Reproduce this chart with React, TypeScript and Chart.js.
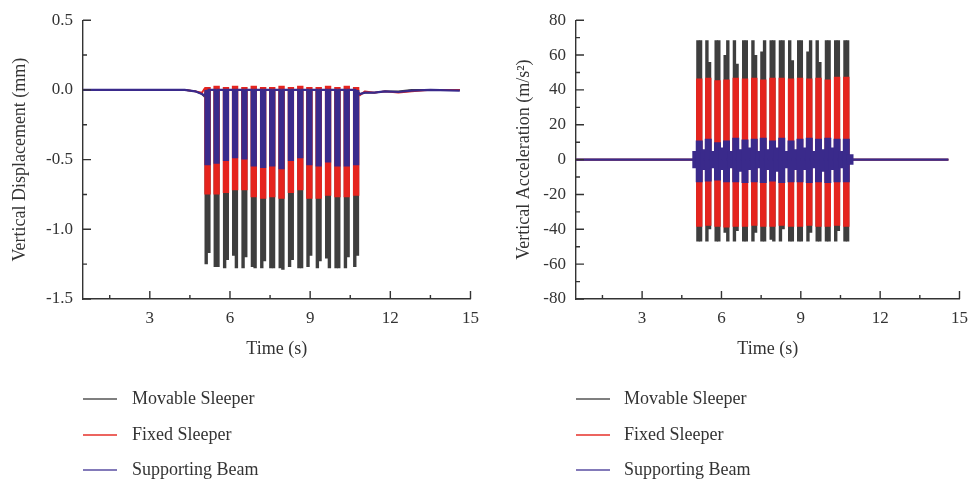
import React, { useEffect, useRef } from "react";
import { Chart, registerables } from "chart.js";

Chart.register(...registerables);

// ---------- labels & styling constants ----------
const SERIES_NAMES = ["Movable Sleeper", "Fixed Sleeper", "Supporting Beam"];
const SERIES_COLORS = ["#3e3e3e", "#e5241e", "#3a2a8b"];
const LEGEND_COLORS = ["#555555", "#e6302a", "#5a4ea2"];
const FONT = "'Liberation Serif', 'Times New Roman', Times, serif";
const AXIS = "#333333";

// ---------- ticks ----------
const xMajorTicks = [3, 6, 9, 12, 15];
const xMinorTicks = [1.5, 4.5, 7.5, 10.5, 13.5];
const dispMajorTicks = [0.5, 0, -0.5, -1, -1.5];
const dispMinorTicks = [0.25, -0.25, -0.75, -1.25];
const accMajorTicks = [80, 60, 40, 20, 0, -20, -40, -60, -80];
const accMinorTicks = [70, 50, 30, 10, -10, -30, -50, -70];

// ---------- time stamps of the wheel-passage bursts (s) ----------
const barTimes = [5.16, 5.5, 5.85, 6.19, 6.54, 6.89, 7.24, 7.58, 7.93, 8.28, 8.63, 8.97, 9.32, 9.67, 10.02, 10.37, 10.72];
const prongTimesA = [5.11, 5.45, 5.8, 6.14, 6.49, 6.84, 7.19, 7.53, 7.88, 8.23, 8.58, 8.92, 9.27, 9.62, 9.97, 10.32, 10.67];
const prongTimesB = [5.21, 5.55, 5.9, 6.24, 6.59, 6.94, 7.29, 7.63, 7.98, 8.33, 8.68, 9.02, 9.37, 9.72, 10.07, 10.42, 10.77];
const midTimes = [5.33, 5.67, 6.02, 6.36, 6.71, 7.06, 7.41, 7.75, 8.1, 8.45, 8.8, 9.14, 9.49, 9.84, 10.19, 10.54];

// ---------- vertical displacement (mm) ----------
const dispLeadT = [0.5, 4.3, 4.7, 4.95, 5.05];
const dispMovableLead = [0, 0, -0.01, -0.03, -0.05];
const dispFixedLead = [0, 0, -0.01, -0.02, 0.01];
const dispBeamLead = [0, 0, -0.01, -0.03, -0.04];

const dispMovableLoA = [-1.25, -1.27, -1.28, -1.19, -1.28, -1.27, -1.28, -1.28, -1.28, -1.27, -1.28, -1.27, -1.28, -1.21, -1.28, -1.28, -1.27];
const dispMovableLoB = [-1.17, -1.27, -1.22, -1.28, -1.2, -1.28, -1.23, -1.28, -1.29, -1.22, -1.28, -1.19, -1.23, -1.28, -1.28, -1.2, -1.19];
const dispFixedHi = [0.02, 0.03, 0.02, 0.03, 0.02, 0.03, 0.02, 0.02, 0.03, 0.02, 0.03, 0.02, 0.02, 0.03, 0.02, 0.03, 0.02];
const dispFixedLo = [-0.75, -0.75, -0.74, -0.72, -0.72, -0.77, -0.78, -0.77, -0.78, -0.74, -0.72, -0.78, -0.78, -0.76, -0.77, -0.77, -0.76];
const dispBeamHi = [0, -0.01, 0, -0.01, 0, -0.01, 0, -0.01, 0, -0.01, 0, -0.01, 0, -0.01, 0, -0.01, 0];
const dispBeamLo = [-0.54, -0.53, -0.51, -0.49, -0.5, -0.55, -0.56, -0.55, -0.57, -0.51, -0.49, -0.54, -0.55, -0.52, -0.55, -0.55, -0.54];

const dispTailT = [10.85, 11.05, 11.4, 11.8, 12.3, 12.8, 13.5, 14.6];
const dispMovableTail = [-0.03, -0.02, -0.02, -0.01, -0.01, 0, 0, 0];
const dispFixedTail = [-0.04, -0.01, -0.02, -0.01, -0.02, -0.01, 0, 0];
const dispBeamTail = [-0.03, -0.02, -0.02, -0.01, -0.015, -0.005, 0, -0.005];

// ---------- vertical acceleration (m/s^2) ----------
const accLeadT = [0.5, 4.95];
const accLeadV = [0, 0];
const accTailT = [10.9, 14.58];
const accTailV = [0, 0];

const accMovableHiA = [68.5, 68.5, 68.5, 60, 68.5, 68.5, 68.5, 62, 68.5, 68.5, 68.5, 68.5, 62, 68.5, 68.5, 68.5, 68.5];
const accMovableHiB = [68.5, 56, 68.5, 68.5, 55, 68.5, 60, 68.5, 68.5, 68.5, 57, 68.5, 68.5, 56, 68.5, 68.5, 68.5];
const accMovableLoA = [-47, -47, -47, -42, -47, -47, -47, -47, -46, -47, -47, -47, -47, -47, -47, -47, -47];
const accMovableLoB = [-47, -40, -47, -47, -41, -47, -42, -47, -47, -40, -47, -47, -42, -47, -47, -41, -47];
const accFixedHi = [46.5, 47, 45.5, 46, 47, 46.5, 47, 46, 47, 47, 46.5, 47, 46.5, 47, 46, 47.5, 47.5];
const accFixedLo = [-38.5, -38, -38.5, -39, -38.5, -38.5, -38, -38.5, -38.5, -38, -38.5, -38.5, -38, -38.5, -38.5, -38, -38.5];
const accBeamHi = [11, 12, 10, 11, 12.5, 11.5, 12, 12.5, 11, 12.5, 11, 12, 12.5, 12, 12.5, 12, 12];
const accBeamLo = [-13, -12.5, -12, -13, -13, -13.5, -13, -13.5, -12.5, -13.5, -13, -13, -13.5, -13, -13.5, -13, -13];
const accBeamMidHi = [6, 5, 7, 5, 6, 7, 5, 6, 7, 5, 6, 7, 5, 6, 7, 5];
const accBeamMidLo = [-6, -5, -6, -5, -7, -6, -5, -6, -7, -5, -6, -6, -5, -7, -6, -5];
const accBeamEdgeT = [5.03, 10.86];
const accBeamEdgeHi = [5, 3];
const accBeamEdgeLo = [-5, -3];

// ---------- helpers ----------
type Ev = [number, number, number];
const zipEv = (t: number[], hi: number[] | number, lo: number[]): Ev[] =>
  t.map((v, i) => [v, Array.isArray(hi) ? hi[i] : hi, lo[i]] as Ev);

function buildPoints(leadT: number[], leadV: number[], events: Ev[], tailT: number[], tailV: number[]) {
  const pts: { x: number; y: number }[] = [];
  leadT.forEach((t, i) => pts.push({ x: t, y: leadV[i] }));
  events
    .slice()
    .sort((a, b) => a[0] - b[0])
    .forEach(([t, hi, lo]) => {
      pts.push({ x: t, y: 0 }, { x: t, y: hi }, { x: t, y: lo }, { x: t, y: 0 });
    });
  tailT.forEach((t, i) => pts.push({ x: t, y: tailV[i] }));
  return pts;
}

function makeDataset(idx: number, data: any[], barW: number, baseW: number, order: number) {
  return {
    label: SERIES_NAMES[idx],
    data,
    borderColor: SERIES_COLORS[idx],
    backgroundColor: SERIES_COLORS[idx],
    borderWidth: baseW,
    borderCapStyle: "butt",
    borderJoinStyle: "bevel",
    pointRadius: 0,
    tension: 0,
    fill: false,
    order,
    segment: {
      borderWidth: (ctx: any) => (ctx.p0.parsed.x === ctx.p1.parsed.x ? barW : baseW),
    },
  };
}

function dispDatasets() {
  return [
    makeDataset(
      0,
      buildPoints(
        dispLeadT,
        dispMovableLead,
        [...zipEv(prongTimesA, 0, dispMovableLoA), ...zipEv(prongTimesB, 0, dispMovableLoB)],
        dispTailT,
        dispMovableTail
      ),
      3.4,
      1.6,
      3
    ),
    makeDataset(1, buildPoints(dispLeadT, dispFixedLead, zipEv(barTimes, dispFixedHi, dispFixedLo), dispTailT, dispFixedTail), 6.4, 1.8, 2),
    makeDataset(2, buildPoints(dispLeadT, dispBeamLead, zipEv(barTimes, dispBeamHi, dispBeamLo), dispTailT, dispBeamTail), 6.2, 2.2, 1),
  ];
}

function accDatasets() {
  return [
    makeDataset(
      0,
      buildPoints(
        accLeadT,
        accLeadV,
        [...zipEv(prongTimesA, accMovableHiA, accMovableLoA), ...zipEv(prongTimesB, accMovableHiB, accMovableLoB)],
        accTailT,
        accTailV
      ),
      3.4,
      1.6,
      3
    ),
    makeDataset(1, buildPoints(accLeadT, accLeadV, zipEv(barTimes, accFixedHi, accFixedLo), accTailT, accTailV), 6.4, 1.8, 2),
    makeDataset(
      2,
      buildPoints(
        accLeadT,
        accLeadV,
        [
          ...zipEv(barTimes, accBeamHi, accBeamLo),
          ...zipEv(midTimes, accBeamMidHi, accBeamMidLo),
          ...zipEv(accBeamEdgeT, accBeamEdgeHi, accBeamEdgeLo),
        ],
        accTailT,
        accTailV
      ),
      7,
      2.4,
      1
    ),
  ];
}

// ---------- plugins ----------
function axisTicksPlugin(yMinor: number[]) {
  return {
    id: "inwardTicks",
    afterDraw(chart: any) {
      const { ctx, chartArea, scales } = chart;
      const x = scales.x;
      const y = scales.y;
      ctx.save();
      ctx.strokeStyle = AXIS;
      ctx.lineWidth = 1.4;
      ctx.beginPath();
      const xt = (v: number, len: number) => {
        const p = x.getPixelForValue(v);
        ctx.moveTo(p, chartArea.bottom);
        ctx.lineTo(p, chartArea.bottom - len);
      };
      const yt = (v: number, len: number) => {
        const p = y.getPixelForValue(v);
        ctx.moveTo(chartArea.left, p);
        ctx.lineTo(chartArea.left + len, p);
      };
      x.ticks.forEach((t: any) => xt(t.value, 8));
      xMinorTicks.forEach((v) => xt(v, 4));
      y.ticks.forEach((t: any) => yt(t.value, 8));
      yMinor.forEach((v) => yt(v, 4));
      ctx.stroke();
      ctx.restore();
    },
  };
}

function legendPlugin(lineX1: number, lineX2: number, textX: number, rows: number[]) {
  return {
    id: "stackedLegend",
    afterDraw(chart: any) {
      const { ctx } = chart;
      ctx.save();
      ctx.font = `18px ${FONT}`;
      ctx.textBaseline = "middle";
      ctx.textAlign = "left";
      chart.data.datasets.forEach((ds: any, i: number) => {
        const y = rows[i];
        ctx.strokeStyle = LEGEND_COLORS[i];
        ctx.lineWidth = 1.6;
        ctx.beginPath();
        ctx.moveTo(lineX1, y);
        ctx.lineTo(lineX2, y);
        ctx.stroke();
        ctx.fillStyle = AXIS;
        ctx.fillText(ds.label, textX, y);
      });
      ctx.restore();
    },
  };
}

function makeConfig(p: any): any {
  return {
    type: "line",
    data: { datasets: p.datasets },
    options: {
      animation: false,
      responsive: false,
      devicePixelRatio: 1,
      events: [],
      layout: { padding: p.padding },
      plugins: { legend: { display: false }, tooltip: { enabled: false }, title: { display: false } },
      scales: {
        x: {
          type: "linear",
          min: 0.5,
          max: 15,
          afterBuildTicks: (s: any) => {
            s.ticks = xMajorTicks.map((v) => ({ value: v }));
          },
          afterFit: (s: any) => {
            s.height = 61;
          },
          grid: { display: false, drawTicks: false },
          border: { display: true, color: AXIS, width: 1.4 },
          ticks: { padding: 9, color: AXIS, font: { family: FONT, size: 17 }, maxRotation: 0, autoSkip: false },
          title: {
            display: true,
            text: "Time (s)",
            color: AXIS,
            font: { family: FONT, size: 18 },
            padding: { top: 0, bottom: 0 },
          },
        },
        y: {
          type: "linear",
          min: p.yMin,
          max: p.yMax,
          afterBuildTicks: (s: any) => {
            s.ticks = p.yTicks.map((v: number) => ({ value: v }));
          },
          afterFit: (s: any) => {
            s.width = p.yWidth;
          },
          grid: { display: false, drawTicks: false },
          border: { display: true, color: AXIS, width: 1.4 },
          ticks: {
            padding: 10,
            color: AXIS,
            font: { family: FONT, size: 17 },
            autoSkip: false,
            callback: p.fmt,
          },
          title: {
            display: true,
            text: p.yTitle,
            color: AXIS,
            font: { family: FONT, size: 18 },
            padding: { top: p.titlePad, bottom: 0 },
          },
        },
      },
    },
    plugins: [axisTicksPlugin(p.yMinor), legendPlugin(p.legend[0], p.legend[1], p.legend[2], [399, 435, 470])],
  };
}

function ChartCanvas({ left, width, build }: { left: number; width: number; build: () => any }) {
  const ref = useRef<HTMLCanvasElement | null>(null);
  useEffect(() => {
    if (!ref.current) return;
    const chart = new Chart(ref.current, build());
    return () => chart.destroy();
  }, []);
  return (
    <canvas
      ref={ref}
      width={width}
      height={485}
      style={{ position: "absolute", left, top: 0, width, height: 485, display: "block" }}
    />
  );
}

export default function App() {
  return (
    <div style={{ position: "absolute", left: 0, top: 0, width: 977, height: 485, background: "#ffffff" }}>
      <ChartCanvas
        left={0}
        width={488}
        build={() =>
          makeConfig({
            datasets: dispDatasets(),
            padding: { left: 0, right: 16, top: 14, bottom: 125 },
            yMin: -1.5,
            yMax: 0.5,
            yTicks: dispMajorTicks,
            yMinor: dispMinorTicks,
            yWidth: 83,
            yTitle: "Vertical Displacement (mm)",
            titlePad: 9,
            fmt: (v: number) => Number(v).toFixed(1),
            legend: [83, 117, 132],
          })
        }
      />
      <ChartCanvas
        left={488}
        width={489}
        build={() =>
          makeConfig({
            datasets: accDatasets(),
            padding: { left: 0, right: 12, top: 14, bottom: 125 },
            yMin: -80,
            yMax: 80,
            yTicks: accMajorTicks,
            yMinor: accMinorTicks,
            yWidth: 88,
            yTitle: "Vertical Acceleration (m/s²)",
            titlePad: 25,
            fmt: (v: number) => String(v),
            legend: [88, 122, 136],
          })
        }
      />
    </div>
  );
}
